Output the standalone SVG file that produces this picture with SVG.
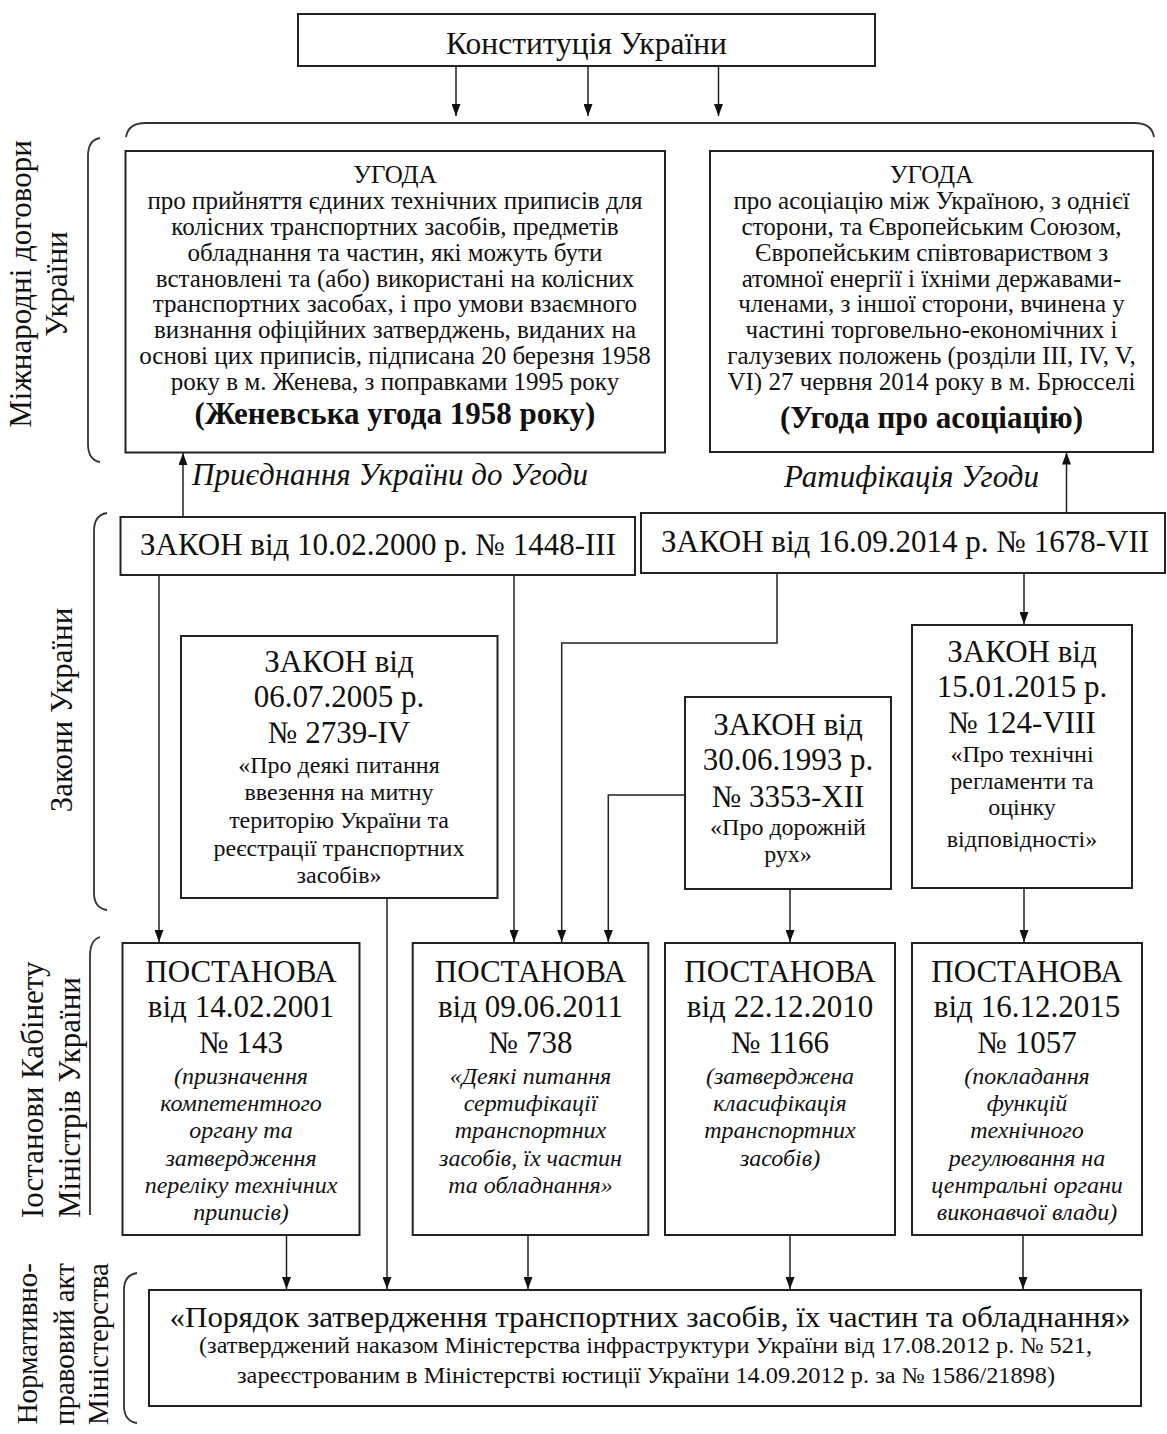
<svg xmlns="http://www.w3.org/2000/svg" width="1167" height="1434" viewBox="0 0 1167 1434">
<style>
text{font-family:"Liberation Serif","Times New Roman",serif;fill:#111;text-anchor:middle}
.box{fill:#fff;stroke:#222;stroke-width:2}
.ln{fill:none;stroke:#222;stroke-width:1.5}
.br{fill:none;stroke:#333;stroke-width:1.8}
.f31{font-size:31px}
.f29{font-size:29px}
.f25{font-size:25px}
.f24{font-size:24px}
.f23{font-size:23px}
.it{font-style:italic}
.b{font-weight:bold}
.side{font-size:31px}
</style>
<defs>
<marker id="ah" viewBox="0 0 12 9" refX="12" refY="4.5" markerWidth="12" markerHeight="9" markerUnits="userSpaceOnUse" orient="auto">
<path d="M0,0 L12,4.5 L0,9 z" fill="#111"/>
</marker>
</defs>
<rect width="1167" height="1434" fill="#fff"/>

<g id="side-labels">
<text class="side" transform="translate(31,284) rotate(-90)">Міжнародні договори</text>
<text class="side" transform="translate(67,284) rotate(-90)">України</text>
<text class="side" transform="translate(72,710) rotate(-90)">Закони України</text>
<text class="side" style="text-anchor:start" transform="translate(43,1218) rotate(-90)">Іостанови Кабінету</text>
<text class="side" style="text-anchor:start" transform="translate(80,1218) rotate(-90)">Міністрів України</text>
<text class="f29" style="text-anchor:end" transform="translate(37,1263) rotate(-90)">Нормативно-</text>
<text class="f29" style="text-anchor:end" transform="translate(74,1263) rotate(-90)">правовий акт</text>
<text class="f29" style="text-anchor:end" transform="translate(108,1263) rotate(-90)">Міністерства</text>
</g>

<g id="brackets">
<path class="br" d="M126,137 Q128,123 146,123 L1134,123 Q1152,123 1154,137"/>
<path class="br" d="M100,138 Q88,140 88,156 L88,444 Q88,460 100,462"/>
<path class="br" d="M107,513 Q94,515 94,531 L94,893 Q94,908 107,910"/>
<path class="br" d="M100,937 Q90,940 90,956 L90,1215"/>
<path class="br" d="M137,1273 Q124,1275 124,1290 L124,1406 Q124,1421 137,1423"/>
</g>

<g id="connectors">
<path class="ln" marker-end="url(#ah)" d="M456,66 V116"/>
<path class="ln" marker-end="url(#ah)" d="M588,66 V116"/>
<path class="ln" marker-end="url(#ah)" d="M718.5,66 V116"/>
<path class="ln" marker-end="url(#ah)" d="M183,517 V453"/>
<path class="ln" marker-end="url(#ah)" d="M1066.5,513 V452.5"/>
<path class="ln" marker-end="url(#ah)" d="M159,575 V942"/>
<path class="ln" marker-end="url(#ah)" d="M514,575 V942"/>
<path class="ln" marker-end="url(#ah)" d="M777,573 V643 H561.7 V942"/>
<path class="ln" marker-end="url(#ah)" d="M685,795 H608.3 V942"/>
<path class="ln" marker-end="url(#ah)" d="M1024,573 V624"/>
<path class="ln" marker-end="url(#ah)" d="M790,889 V942"/>
<path class="ln" marker-end="url(#ah)" d="M1024,888 V942"/>
<path class="ln" marker-end="url(#ah)" d="M387,898 V1289"/>
<path class="ln" marker-end="url(#ah)" d="M286.5,1235 V1289"/>
<path class="ln" marker-end="url(#ah)" d="M528,1235 V1289"/>
<path class="ln" marker-end="url(#ah)" d="M790,1235 V1289"/>
<path class="ln" marker-end="url(#ah)" d="M1023,1235 V1289"/>
</g>

<g id="edge-labels">
<text class="f31 it" x="390" y="485">Приєднання України до Угоди</text>
<text class="f31 it" x="911.5" y="487">Ратифікація Угоди</text>
</g>

<g id="constitution">
<rect class="box" x="298" y="14" width="577" height="52"/>
<text x="586.5" y="54" style="font-size:31.5px">Конституція України</text>
</g>

<g id="geneva">
<rect class="box" x="125.5" y="151" width="539.5" height="301.5"/>
<text class="f25" x="395" y="183">УГОДА</text>
<text class="f25" x="395" y="209">про прийняття єдиних технічних приписів для</text>
<text class="f25" x="395" y="235">колісних транспортних засобів, предметів</text>
<text class="f25" x="395" y="261">обладнання та частин, які можуть бути</text>
<text class="f25" x="395" y="286.5">встановлені та (або) використані на колісних</text>
<text class="f25" x="395" y="312">транспортних засобах, і про умови взаємного</text>
<text class="f25" x="395" y="338">визнання офіційних затверджень, виданих на</text>
<text class="f25" x="395" y="364">основі цих приписів, підписана 20 березня 1958</text>
<text class="f25" x="395" y="390">року в м. Женева, з поправками 1995 року</text>
<text class="f31 b" x="395" y="424">(Женевська угода 1958 року)</text>
</g>

<g id="association">
<rect class="box" x="710" y="151" width="443" height="301"/>
<text class="f25" x="931.5" y="183">УГОДА</text>
<text class="f25" x="931.5" y="209">про асоціацію між Україною, з однієї</text>
<text class="f25" x="931.5" y="235">сторони, та Європейським Союзом,</text>
<text class="f25" x="931.5" y="261">Європейським співтовариством з</text>
<text class="f25" x="931.5" y="286.5">атомної енергії і їхніми державами-</text>
<text class="f25" x="931.5" y="312">членами, з іншої сторони, вчинена у</text>
<text class="f25" x="931.5" y="338">частині торговельно-економічних і</text>
<text class="f25" x="931.5" y="364">галузевих положень (розділи III, IV, V,</text>
<text class="f25" x="931.5" y="390">VI) 27 червня 2014 року в м. Брюсселі</text>
<text class="f31 b" x="931.5" y="428">(Угода про асоціацію)</text>
</g>

<g id="law-1448">
<rect class="box" x="120.5" y="517" width="514.5" height="58"/>
<text class="f31" x="378" y="555">ЗАКОН від 10.02.2000 р. № 1448-III</text>
</g>

<g id="law-1678">
<rect class="box" x="641" y="513" width="524" height="60"/>
<text class="f31" x="905" y="552">ЗАКОН від 16.09.2014 р. № 1678-VII</text>
</g>

<g id="law-2739">
<rect class="box" x="181" y="636" width="316.5" height="262"/>
<text class="f31" x="339" y="672">ЗАКОН від</text>
<text class="f31" x="339" y="707">06.07.2005 р.</text>
<text class="f31" x="339" y="743">№ 2739-IV</text>
<text class="f24" x="339" y="773">«Про деякі питання</text>
<text class="f24" x="339" y="800">ввезення на митну</text>
<text class="f24" x="339" y="828">територію України та</text>
<text class="f24" x="339" y="856">реєстрації транспортних</text>
<text class="f24" x="339" y="883">засобів»</text>
</g>

<g id="law-3353">
<rect class="box" x="685" y="697" width="206" height="192"/>
<text class="f31" x="788" y="735">ЗАКОН від</text>
<text class="f31" x="788" y="770">30.06.1993 р.</text>
<text class="f31" x="788" y="806.5">№ 3353-XII</text>
<text class="f24" x="788" y="835">«Про дорожній</text>
<text class="f24" x="788" y="861.5">рух»</text>
</g>

<g id="law-124">
<rect class="box" x="912" y="625" width="220" height="263"/>
<text class="f31" x="1022" y="662">ЗАКОН від</text>
<text class="f31" x="1022" y="697">15.01.2015 р.</text>
<text class="f31" x="1022" y="733">№ 124-VIII</text>
<text class="f24" x="1022" y="762">«Про технічні</text>
<text class="f24" x="1022" y="788.5">регламенти та</text>
<text class="f24" x="1022" y="815">оцінку</text>
<text class="f24" x="1022" y="846.5">відповідності»</text>
</g>

<g id="post-143">
<rect class="box" x="122.5" y="943" width="237" height="292"/>
<text class="f31" x="241" y="981.5">ПОСТАНОВА</text>
<text class="f31" x="241" y="1016.5">від 14.02.2001</text>
<text class="f31" x="241" y="1053">№ 143</text>
<text class="f24 it" x="241" y="1084">(призначення</text>
<text class="f24 it" x="241" y="1110.5">компетентного</text>
<text class="f24 it" x="241" y="1138">органу та</text>
<text class="f24 it" x="241" y="1166">затвердження</text>
<text class="f24 it" x="241" y="1193">переліку технічних</text>
<text class="f24 it" x="241" y="1220">приписів)</text>
</g>

<g id="post-738">
<rect class="box" x="412.7" y="943" width="235.6" height="292"/>
<text class="f31" x="530.5" y="981.5">ПОСТАНОВА</text>
<text class="f31" x="530.5" y="1016.5">від 09.06.2011</text>
<text class="f31" x="530.5" y="1053">№ 738</text>
<text class="f24 it" x="530.5" y="1084">«Деякі питання</text>
<text class="f24 it" x="530.5" y="1110.5">сертифікації</text>
<text class="f24 it" x="530.5" y="1138">транспортних</text>
<text class="f24 it" x="530.5" y="1166">засобів, їх частин</text>
<text class="f24 it" x="530.5" y="1193">та обладнання»</text>
</g>

<g id="post-1166">
<rect class="box" x="665" y="943" width="230" height="292"/>
<text class="f31" x="780" y="981.5">ПОСТАНОВА</text>
<text class="f31" x="780" y="1016.5">від 22.12.2010</text>
<text class="f31" x="780" y="1053">№ 1166</text>
<text class="f24 it" x="780" y="1084">(затверджена</text>
<text class="f24 it" x="780" y="1110.5">класифікація</text>
<text class="f24 it" x="780" y="1138">транспортних</text>
<text class="f24 it" x="780" y="1166">засобів)</text>
</g>

<g id="post-1057">
<rect class="box" x="912" y="943" width="230" height="292"/>
<text class="f31" x="1027" y="981.5">ПОСТАНОВА</text>
<text class="f31" x="1027" y="1016.5">від 16.12.2015</text>
<text class="f31" x="1027" y="1053">№ 1057</text>
<text class="f24 it" x="1027" y="1084">(покладання</text>
<text class="f24 it" x="1027" y="1110.5">функцій</text>
<text class="f24 it" x="1027" y="1138">технічного</text>
<text class="f24 it" x="1027" y="1166">регулювання на</text>
<text class="f24 it" x="1027" y="1193">центральні органи</text>
<text class="f24 it" x="1027" y="1220">виконавчої влади)</text>
</g>

<g id="order">
<rect class="box" x="149" y="1290" width="992" height="116"/>
<text class="f29" x="650" y="1327" textLength="961" lengthAdjust="spacingAndGlyphs">«Порядок затвердження транспортних засобів, їх частин та обладнання»</text>
<text class="f23" x="645.5" y="1353" textLength="893" lengthAdjust="spacingAndGlyphs">(затверджений наказом Міністерства інфраструктури України від 17.08.2012 р. № 521,</text>
<text class="f23" x="646" y="1383" textLength="818" lengthAdjust="spacingAndGlyphs">зареєстрованим в Міністерстві юстиції України 14.09.2012 р. за № 1586/21898)</text>
</g>
</svg>
